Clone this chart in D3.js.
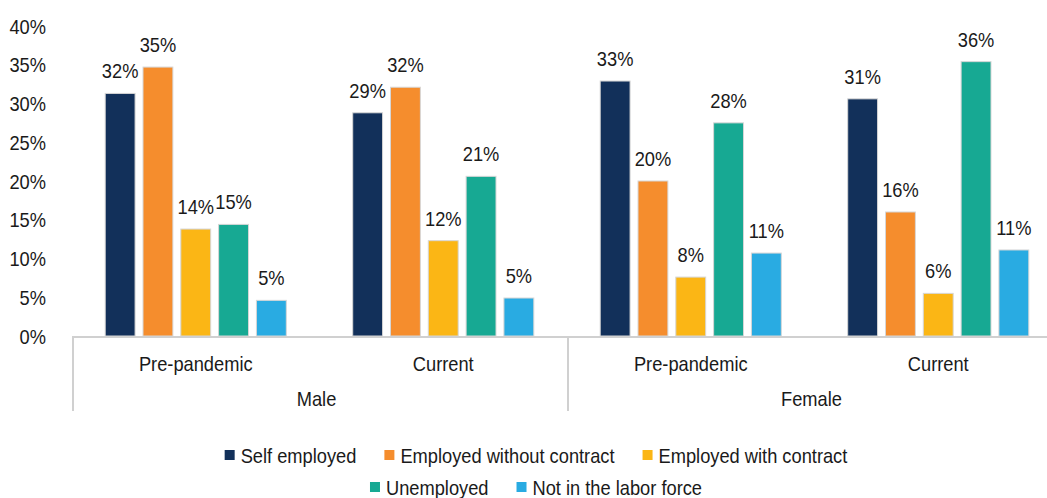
<!DOCTYPE html>
<html>
<head>
<meta charset="utf-8">
<script src="https://cdn.jsdelivr.net/npm/d3@7"></script>
<style>
  html, body { margin: 0; padding: 0; background: #fff; }
  svg text { font-family: "Liberation Sans", Arial, sans-serif; fill: #1a1a1a; }
</style>
</head>
<body>
<svg id="chart" width="1047" height="498"></svg>
<script>
const genders = ["Male", "Female"];
const periods = ["Pre-pandemic", "Current"];
const series = ["Self employed", "Employed without contract", "Employed with contract", "Unemployed", "Not in the labor force"];
const colors = ["#12305A", "#F58D2D", "#FBB615", "#17A993", "#29ABE2"];
// values per group: Male Pre, Male Current, Female Pre, Female Current
const selfEmployed      = [31.3, 28.8, 32.9, 30.6];
const withoutContract   = [34.7, 32.1, 20.0, 16.0];
const withContract      = [13.8, 12.3,  7.6,  5.5];
const unemployed        = [14.4, 20.6, 27.5, 35.4];
const notInLaborForce   = [ 4.6,  4.9, 10.7, 11.1];
const dataLabels = [
  ["32%", "29%", "33%", "31%"],
  ["35%", "32%", "20%", "16%"],
  ["14%", "12%", "8%", "6%"],
  ["15%", "21%", "28%", "36%"],
  ["5%", "5%", "11%", "11%"]
];
const yTicks = [0, 5, 10, 15, 20, 25, 30, 35, 40];

const values = [selfEmployed, withoutContract, withContract, unemployed, notInLaborForce];
const groups = [];
genders.forEach(g => periods.forEach(p => groups.push({gender: g, period: p, key: g + "|" + p})));

const svg = d3.select("#chart");
const FS = 21;
const SX = 0.87;

// condensed text helper
function txt(parent, x, yy, str, anchor, dy) {
  const g = parent.append("g").attr("transform", `translate(${x},${yy}) scale(${SX},1)`);
  const t = g.append("text").attr("x", 0).attr("y", 0)
    .attr("text-anchor", anchor || "start").style("font-size", FS + "px").text(str);
  if (dy) t.attr("dy", dy);
  return t;
}

const plotLeft = 72, plotRight = 1062, plotTop = 26, base = 336;
const y = d3.scaleLinear().domain([0, 40]).range([base, plotTop]);
const x0 = d3.scaleBand().domain(groups.map(d => d.key)).range([plotLeft, plotRight]).padding(0);
const x1 = d3.scaleBand().domain(series).range([33.2, x0.bandwidth() - 33.2]).paddingInner(0.21).paddingOuter(0);
const xg = d3.scaleBand().domain(genders).range([plotLeft, plotRight]).padding(0);

// y tick labels
const gy = svg.append("g");
yTicks.forEach(d => txt(gy, 46, y(d), d + "%", "end", "0.36em"));

// bars
const gBars = svg.append("g");
groups.forEach((grp, gi) => {
  const gg = gBars.append("g").attr("transform", `translate(${x0(grp.key)},0)`);
  series.forEach((s, si) => {
    const v = values[si][gi];
    gg.append("rect")
      .attr("x", x1(s)).attr("width", x1.bandwidth())
      .attr("y", y(v)).attr("height", base - y(v))
      .attr("fill", colors[si]).attr("stroke", "#d6d6d6").attr("stroke-width", 1);
    txt(gg, x1(s) + x1.bandwidth() / 2, y(v) - 15, dataLabels[si][gi], "middle");
  });
});

// category axis
const axisColor = "#d0d0d0";
svg.append("line").attr("x1", plotLeft).attr("x2", plotRight).attr("y1", base + 1).attr("y2", base + 1)
  .attr("stroke", axisColor).attr("stroke-width", 2);
genders.forEach(g => {
  svg.append("line").attr("x1", xg(g) + 1).attr("x2", xg(g) + 1).attr("y1", base).attr("y2", 411)
    .attr("stroke", axisColor).attr("stroke-width", 2);
});
const gx = svg.append("g");
groups.forEach(d => txt(gx, x0(d.key) + x0.bandwidth() / 2, 363, d.period, "middle", "0.36em"));
genders.forEach(d => txt(gx, xg(d) + xg.bandwidth() / 2 - 3, 398, d, "middle", "0.36em"));

// legend
const rows = [[0, 1, 2], [3, 4]];
const rowY = [455, 487];
const legend = svg.append("g");
rows.forEach((row, ri) => {
  const items = row.map(i => {
    const g = legend.append("g");
    g.append("rect").attr("x", 0).attr("y", -5).attr("width", 10).attr("height", 10).attr("fill", colors[i]);
    const t = txt(g, 16, 0, series[i], "start", "0.36em");
    return {g, w: 16 + t.node().getComputedTextLength() * SX};
  });
  const gap = 28;
  const total = d3.sum(items, d => d.w) + gap * (items.length - 1);
  let cx = 536 - total / 2;
  items.forEach(it => {
    it.g.attr("transform", `translate(${cx},${rowY[ri]})`);
    cx += it.w + gap;
  });
});
</script>
</body>
</html>
